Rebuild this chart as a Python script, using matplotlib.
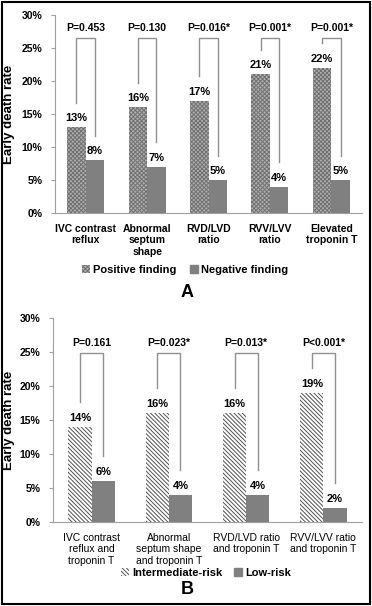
import matplotlib
matplotlib.use("Agg")
import matplotlib.pyplot as plt
from matplotlib.patches import Rectangle, Patch
import numpy as np

plt.rcParams["font.family"] = ["Liberation Sans", "DejaVu Sans"]
plt.rcParams["hatch.linewidth"] = 0.7

# Panel A data
cats_a = ["IVC contrast\nreflux", "Abnormal\nseptum\nshape", "RVD/LVD\nratio", "RVV/LVV\nratio", "Elevated\ntroponin T"]
positive_a = [13, 16, 17, 21, 22]
negative_a = [8, 7, 5, 4, 5]
pvals_a = ["P=0.453", "P=0.130", "P=0.016*", "P=0.001*", "P=0.001*"]

# Panel B data
cats_b = ["IVC contrast\nreflux and\ntroponin T", "Abnormal\nseptum shape\nand troponin T",
          "RVD/LVD ratio\nand troponin T", "RVV/LVV ratio\nand troponin T"]
intermediate_b = [14, 16, 16, 19]
low_b = [6, 4, 4, 2]
pvals_b = ["P=0.161", "P=0.023*", "P=0.013*", "P<0.001*"]

yticks = [0, 5, 10, 15, 20, 25, 30]

W, H = 372, 606
fig = plt.figure(figsize=(W / 100, H / 100), dpi=100)


def px_axes(left, top, right, bottom):
    return fig.add_axes([left / W, 1 - bottom / H, (right - left) / W, (bottom - top) / H])


def draw_panel(ax, cats, pos, neg, pvals, pos_style, p_y, bracket_top, xlab_weight, left_px):
    x = np.arange(len(cats))
    w = 0.3
    ax.bar(x - w / 2, pos, w, **pos_style)
    ax.bar(x + w / 2, neg, w, color="#808080", edgecolor="none")
    for i in range(len(cats)):
        ax.text(x[i] - w / 2, pos[i] + 0.6, f"{pos[i]}%", ha="center", va="bottom",
                fontsize=8, fontweight="bold")
        ax.text(x[i] + w / 2, neg[i] + 0.6, f"{neg[i]}%", ha="center", va="bottom",
                fontsize=8, fontweight="bold")
        ax.plot([x[i] - w / 2, x[i] - w / 2, x[i] + w / 2, x[i] + w / 2],
                [pos[i] + 3.7, bracket_top, bracket_top, neg[i] + 3.7],
                color="#909090", lw=1.0, solid_joinstyle="miter")
        ax.text(x[i], p_y, pvals[i], ha="center", va="center", fontsize=7.5, fontweight="bold")
    ax.set_xlim(-0.5, len(cats) - 0.5)
    ax.set_ylim(0, 30)
    ax.set_yticks(yticks)
    ax.set_yticklabels([f"{t}%" for t in yticks], fontsize=7.5, fontweight="bold")
    ax.set_xticks(x)
    ax.set_xticklabels(cats, fontsize=7.5, fontweight=xlab_weight, linespacing=1.15)
    ax.tick_params(axis="x", length=0, pad=8)
    ax.tick_params(axis="y", length=3, color="#a0a0a0", pad=6)
    for s in ["top", "right"]:
        ax.spines[s].set_visible(False)
    for s in ["left", "bottom"]:
        ax.spines[s].set_color("#a0a0a0")
    ax.set_ylabel("Early death rate", fontsize=9.5, fontweight="bold")
    ax.yaxis.set_label_coords((15 - left_px) / (362 - left_px), 0.5)
    ax.patch.set_alpha(0)


style_a = dict(facecolor="#b0b0b0", edgecolor="#707070", hatch="xxxxxxxx", linewidth=0)
style_b = dict(facecolor="white", edgecolor="#505050", hatch="\\\\\\\\\\\\\\\\", linewidth=0)

ax_a = px_axes(55, 15, 362, 213)
draw_panel(ax_a, cats_a, positive_a, negative_a, pvals_a, style_a, 28, 26.5, "bold", 55)

ax_b = px_axes(53, 318, 362, 522)
draw_panel(ax_b, cats_b, intermediate_b, low_b, pvals_b, style_b, 26.3, 24.9, "normal", 53)

fig.legend(handles=[Patch(**style_a), Patch(color="#808080")],
           labels=["Positive finding", "Negative finding"],
           loc="center", bbox_to_anchor=(185 / W, 1 - 270 / H), ncol=2, frameon=False,
           handlelength=0.7, handleheight=0.7, handletextpad=0.3,
           columnspacing=1.2, prop={"weight": "bold", "size": 8})
fig.legend(handles=[Patch(**style_b), Patch(color="#808080")],
           labels=["Intermediate-risk", "Low-risk"],
           loc="center", bbox_to_anchor=(206 / W, 1 - 573 / H), ncol=2, frameon=False,
           handlelength=0.7, handleheight=0.7, handletextpad=0.3,
           columnspacing=1.0, prop={"weight": "bold", "size": 8})

fig.text(187 / W, 1 - 292 / H, "A", ha="center", va="center", fontsize=13, fontweight="bold")
fig.text(187 / W, 1 - 589 / H, "B", ha="center", va="center", fontsize=13, fontweight="bold")

fig.patches.append(Rectangle((2 / W, 2 / H), 1 - 4 / W, 1 - 4 / H, transform=fig.transFigure,
                             fill=False, edgecolor="black", linewidth=1.5))

fig.savefig("out.png", dpi=100)
